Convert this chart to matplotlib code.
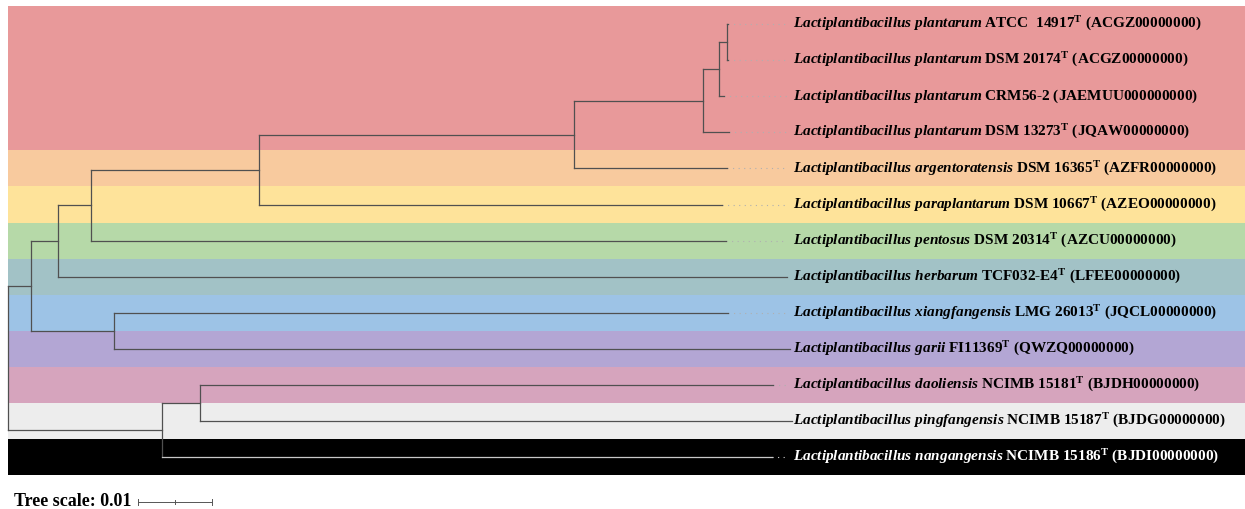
import matplotlib
matplotlib.use("Agg")
import matplotlib.pyplot as plt

plt.rcParams['mathtext.fontset'] = 'custom'
plt.rcParams['mathtext.rm'] = 'Liberation Serif:bold'
plt.rcParams['mathtext.bf'] = 'Liberation Serif:bold'
plt.rcParams['mathtext.it'] = 'Liberation Serif:italic:bold'

# leaves, top to bottom
species = ["plantarum", "plantarum", "plantarum", "plantarum", "argentoratensis",
           "paraplantarum", "pentosus", "herbarum", "xiangfangensis", "garii",
           "daoliensis", "pingfangensis", "nangangensis"]
strains = ["ATCC  14917", "DSM 20174", "CRM56-2", "DSM 13273", "DSM 16365",
           "DSM 10667", "DSM 20314", "TCF032-E4", "LMG 26013", "FI11369",
           "NCIMB 15181", "NCIMB 15187", "NCIMB 15186"]
type_strain = [True, True, False, True, True, True, True, True, True, True, True, True, True]
accessions = ["ACGZ00000000", "ACGZ00000000", "JAEMUU000000000", "JQAW00000000",
              "AZFR00000000", "AZEO00000000", "AZCU00000000", "LFEE00000000",
              "JQCL00000000", "QWZQ00000000", "BJDH00000000", "BJDG00000000",
              "BJDI00000000"]
band_colors = ["#E8999A", "#E8999A", "#E8999A", "#E8999A", "#F8CA9E", "#FEE39A",
               "#B6D9A8", "#A2C2C6", "#9DC3E6", "#B3A6D4", "#D6A4BD", "#EDEDED",
               "#000000"]
text_colors = ["black"] * 12 + ["white"]

# distance from root (substitutions/site)
leaf_depth = [0.0973, 0.0973, 0.0968, 0.0974, 0.0972, 0.0965, 0.0970,
              0.1053, 0.0973, 0.1057, 0.1034, 0.1059, 0.1032]
# internal nodes: children ids (leaves are 0..12), numbered from 13
node_children = [(0, 1), (13, 2), (14, 3), (15, 4), (16, 5), (17, 6), (18, 7),
                 (8, 9), (19, 20), (10, 11), (22, 12), (21, 23)]
node_depth = [0.0972, 0.0961, 0.0939, 0.0765, 0.0339, 0.0112, 0.0068,
              0.0143, 0.0031, 0.0259, 0.0208, 0.0]
scale_len = 0.01

n = len(species)
px_per_unit = 7400.0
label_x = 0.1061
dot_end = 0.1053

fig = plt.figure(figsize=(12.45, 5.09), dpi=100)
ax = fig.add_axes([0, 0, 1, 1])
ax.set_xlim(-8 / px_per_unit, (1245 - 8) / px_per_unit)
ax.set_ylim((509 - 24) / 36.1, -24 / 36.1)
ax.axis('off')

# colour bands
for i in range(n):
    ax.fill_between([0, 1], i - 0.5, i + 0.5, color=band_colors[i], lw=0, zorder=0)

# node coordinates
xs = list(leaf_depth)
ys = list(range(n))
for ch, d in zip(node_children, node_depth):
    xs.append(d)
    ys.append(sum(ys[c] for c in ch) / len(ch))

line_col = "#505050"
for k, ch in enumerate(node_children):
    nid = n + k
    ax.plot([xs[nid], xs[nid]], [min(ys[c] for c in ch), max(ys[c] for c in ch)],
            color=line_col, lw=0.9, zorder=2)
    for c in ch:
        col = "#c8c8c8" if (c < n and band_colors[c] == "#000000") else line_col
        ax.plot([xs[nid], xs[c]], [ys[c], ys[c]], color=col, lw=0.9, zorder=2)

# dotted guides and labels
for i in range(n):
    if leaf_depth[i] < dot_end:
        dcol = "#d0d0d0" if text_colors[i] == "white" else "#b0b0b0"
        ax.plot([leaf_depth[i], dot_end], [i, i], color=dcol, lw=0.8,
                ls=(0, (1, 4)), zorder=1)
    sup = r"$^{\mathrm{T}}$" if type_strain[i] else ""
    lab = (r"$\mathit{Lactiplantibacillus\ " + species[i] + "}$ " + strains[i]
           + sup + " (" + accessions[i] + ")")
    ax.text(label_x, i, lab, fontsize=11, family="Liberation Serif",
            fontweight="bold", color=text_colors[i], va="center", ha="left", zorder=3)

# tree scale
sy = (502 - 24) / 36.1
sx = (138 - 8) / px_per_unit
ax.text((14 - 8) / px_per_unit, sy, "Tree scale: " + str(scale_len), fontsize=13,
        family="Liberation Serif", fontweight="bold", va="center", ha="left")
ax.plot([sx, sx + scale_len], [sy, sy], color="#555555", lw=0.7)
for t, h in [(0, 0.09), (0.5, 0.05), (1, 0.09)]:
    ax.plot([sx + t * scale_len] * 2, [sy - h, sy + h], color="#555555", lw=0.7)

fig.savefig("out.png", dpi=100)
